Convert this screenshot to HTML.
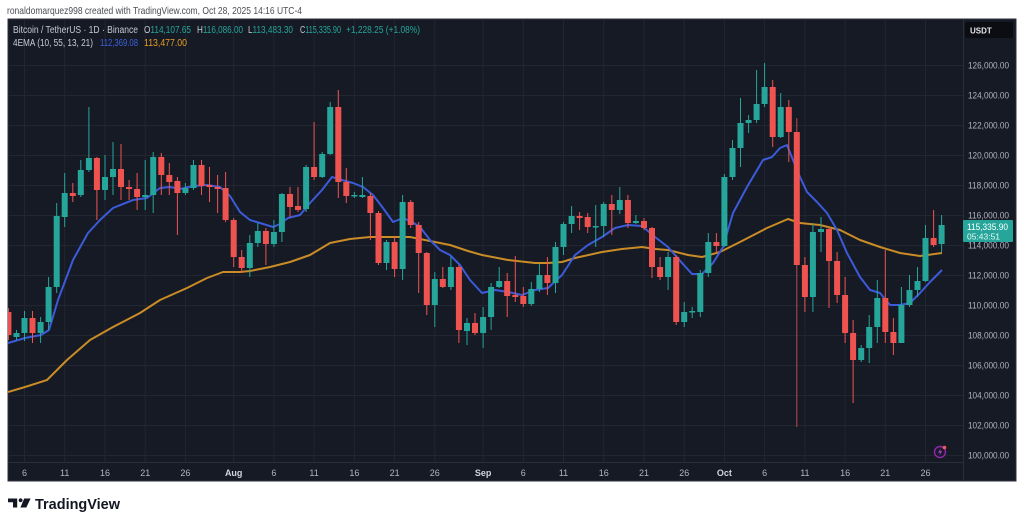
<!DOCTYPE html>
<html><head><meta charset="utf-8"><style>
html,body{margin:0;padding:0;background:#fff;width:1024px;height:524px;overflow:hidden}
svg{display:block}
</style></head><body>
<svg width="1024" height="524" viewBox="0 0 1024 524" font-family="'Liberation Sans', sans-serif">
<defs><clipPath id="pc"><rect x="8" y="19" width="955" height="443"/></clipPath></defs>
<text x="7" y="14" font-size="10.5" fill="#4a4d55" textLength="295" lengthAdjust="spacingAndGlyphs">ronaldomarquez998 created with TradingView.com, Oct 28, 2025 14:16 UTC-4</text>
<rect x="8" y="19" width="1008" height="462" fill="#161a25" stroke="#2f333e" stroke-width="1"/>
<!-- grid -->
<g stroke="#222631" stroke-width="1">
<line x1="8" y1="65.5" x2="963" y2="65.5"/><line x1="8" y1="95.5" x2="963" y2="95.5"/><line x1="8" y1="125.5" x2="963" y2="125.5"/><line x1="8" y1="155.5" x2="963" y2="155.5"/><line x1="8" y1="185.5" x2="963" y2="185.5"/><line x1="8" y1="215.5" x2="963" y2="215.5"/><line x1="8" y1="245.5" x2="963" y2="245.5"/><line x1="8" y1="275.5" x2="963" y2="275.5"/><line x1="8" y1="305.5" x2="963" y2="305.5"/><line x1="8" y1="335.5" x2="963" y2="335.5"/><line x1="8" y1="365.5" x2="963" y2="365.5"/><line x1="8" y1="395.5" x2="963" y2="395.5"/><line x1="8" y1="425.5" x2="963" y2="425.5"/><line x1="8" y1="455.5" x2="963" y2="455.5"/>
<line x1="24.5" y1="19" x2="24.5" y2="462"/><line x1="64.7" y1="19" x2="64.7" y2="462"/><line x1="105" y1="19" x2="105" y2="462"/><line x1="145.2" y1="19" x2="145.2" y2="462"/><line x1="185.4" y1="19" x2="185.4" y2="462"/><line x1="233.7" y1="19" x2="233.7" y2="462"/><line x1="273.9" y1="19" x2="273.9" y2="462"/><line x1="314.1" y1="19" x2="314.1" y2="462"/><line x1="354.4" y1="19" x2="354.4" y2="462"/><line x1="394.6" y1="19" x2="394.6" y2="462"/><line x1="434.8" y1="19" x2="434.8" y2="462"/><line x1="483.1" y1="19" x2="483.1" y2="462"/><line x1="523.3" y1="19" x2="523.3" y2="462"/><line x1="563.5" y1="19" x2="563.5" y2="462"/><line x1="603.7" y1="19" x2="603.7" y2="462"/><line x1="644" y1="19" x2="644" y2="462"/><line x1="684.2" y1="19" x2="684.2" y2="462"/><line x1="724.4" y1="19" x2="724.4" y2="462"/><line x1="764.6" y1="19" x2="764.6" y2="462"/><line x1="804.9" y1="19" x2="804.9" y2="462"/><line x1="845.1" y1="19" x2="845.1" y2="462"/><line x1="885.3" y1="19" x2="885.3" y2="462"/><line x1="925.5" y1="19" x2="925.5" y2="462"/>
</g>
<line x1="963.5" y1="19" x2="963.5" y2="481" stroke="#2a2e39"/>
<line x1="8" y1="462.5" x2="963" y2="462.5" stroke="#2a2e39"/>
<g clip-path="url(#pc)">
<!-- EMA lines -->
<polyline fill="none" stroke="#c98c26" stroke-width="2" stroke-linejoin="round" points="8,392 25,387 47,380 67,360 90,340 113,327 140,313 160,300 187,288 207,278 223,272 240,272 250,271 270,267 290,262 310,255 330,243 350,239 370,237 390,237 410,237 430,241 450,245 468,251 482,255 508,260 535,263 548,263 562,262 575,258 602,252 622,249 642,247 655,249 668,250 688,255 702,257 720,252 740,242 767,228 788,219 800,223 820,225 840,230 860,240 880,247 900,253 920,256 942,253"/>
<polyline fill="none" stroke="#3b5bdb" stroke-width="2" stroke-linejoin="round" points="8,343 25,338 41,335 49,330 58,300 73,260 88,233 100,220 113,208 133,200 147,198 160,188 170,187 180,189 193,186 207,185 220,187 230,196 240,212 250,220 260,223 273,227 280,224 288,218 300,215 310,203 322,190 332,177 342,180 353,183 363,187 373,195 383,208 393,222 403,218 412,222 420,227 430,240 440,250 450,255 460,265 470,280 482,293 495,290 508,292 522,295 535,290 548,288 562,275 575,255 588,245 602,237 615,228 628,225 642,226 655,237 668,247 682,263 692,274 702,274 713,263 723,247 733,213 747,187 763,160 772,157 780,148 787,145 793,160 800,177 807,192 817,202 827,213 837,230 847,253 860,277 870,290 880,293 890,305 900,305 910,303 920,293 930,282 942,270"/>
<!-- teal candles -->
<g fill="#26a69a">
<rect x="16" y="330" width="1" height="10"/><rect x="13.5" y="333" width="6" height="4"/>
<rect x="24" y="311" width="1" height="30"/><rect x="21.5" y="318" width="6" height="15"/>
<rect x="40.1" y="317" width="1" height="26"/><rect x="37.6" y="322" width="6" height="11"/>
<rect x="48.1" y="277" width="1" height="53"/><rect x="45.6" y="287" width="6" height="35"/>
<rect x="56.2" y="203" width="1" height="90"/><rect x="53.7" y="216" width="6" height="71"/>
<rect x="64.2" y="173" width="1" height="54"/><rect x="61.7" y="193" width="6" height="24"/>
<rect x="80.3" y="160" width="1" height="37"/><rect x="77.8" y="170" width="6" height="25"/>
<rect x="88.4" y="107" width="1" height="65"/><rect x="85.9" y="158" width="6" height="12"/>
<rect x="104.5" y="155" width="1" height="45"/><rect x="102" y="177" width="6" height="13"/>
<rect x="112.5" y="142" width="1" height="53"/><rect x="110" y="169" width="6" height="8"/>
<rect x="144.7" y="160" width="1" height="50"/><rect x="142.2" y="195" width="6" height="2"/>
<rect x="152.7" y="152" width="1" height="61"/><rect x="150.2" y="157" width="6" height="38"/>
<rect x="184.9" y="183" width="1" height="12"/><rect x="182.4" y="188" width="6" height="5"/>
<rect x="193" y="160" width="1" height="30"/><rect x="190.5" y="165" width="6" height="23"/>
<rect x="249.3" y="235" width="1" height="42"/><rect x="246.8" y="243" width="6" height="25"/>
<rect x="257.3" y="223" width="1" height="24"/><rect x="254.8" y="231" width="6" height="12"/>
<rect x="273.4" y="220" width="1" height="27"/><rect x="270.9" y="232" width="6" height="12"/>
<rect x="281.4" y="193" width="1" height="49"/><rect x="278.9" y="194" width="6" height="38"/>
<rect x="305.6" y="165" width="1" height="47"/><rect x="303.1" y="167" width="6" height="42"/>
<rect x="321.7" y="152" width="1" height="26"/><rect x="319.2" y="154" width="6" height="23"/>
<rect x="329.7" y="102" width="1" height="53"/><rect x="327.2" y="107" width="6" height="47"/>
<rect x="353.9" y="192" width="1" height="6"/><rect x="351.4" y="195" width="6" height="1.5"/>
<rect x="361.9" y="177" width="1" height="21"/><rect x="359.4" y="195" width="6" height="2"/>
<rect x="386" y="240" width="1" height="30"/><rect x="383.5" y="242" width="6" height="21"/>
<rect x="402.1" y="195" width="1" height="85"/><rect x="399.6" y="202" width="6" height="67"/>
<rect x="434.3" y="272" width="1" height="55"/><rect x="431.8" y="279" width="6" height="26"/>
<rect x="450.4" y="257" width="1" height="33"/><rect x="447.9" y="267" width="6" height="20"/>
<rect x="466.5" y="318" width="1" height="27"/><rect x="464" y="323" width="6" height="8"/>
<rect x="482.6" y="307" width="1" height="41"/><rect x="480.1" y="317" width="6" height="16"/>
<rect x="490.6" y="283" width="1" height="47"/><rect x="488.1" y="287" width="6" height="30"/>
<rect x="498.7" y="267" width="1" height="21"/><rect x="496.2" y="281" width="6" height="6"/>
<rect x="530.8" y="282" width="1" height="24"/><rect x="528.3" y="289" width="6" height="15"/>
<rect x="538.9" y="264" width="1" height="28"/><rect x="536.4" y="275" width="6" height="14"/>
<rect x="555" y="242" width="1" height="51"/><rect x="552.5" y="247" width="6" height="36"/>
<rect x="563" y="222" width="1" height="33"/><rect x="560.5" y="224" width="6" height="23"/>
<rect x="571.1" y="206" width="1" height="27"/><rect x="568.6" y="216" width="6" height="8"/>
<rect x="595.2" y="205" width="1" height="42"/><rect x="592.7" y="226" width="6" height="1.5"/>
<rect x="603.2" y="202" width="1" height="35"/><rect x="600.7" y="204" width="6" height="22"/>
<rect x="619.3" y="187" width="1" height="27"/><rect x="616.8" y="200" width="6" height="10"/>
<rect x="635.4" y="215" width="1" height="9"/><rect x="632.9" y="221" width="6" height="2"/>
<rect x="667.6" y="252" width="1" height="38"/><rect x="665.1" y="257" width="6" height="20"/>
<rect x="683.7" y="302" width="1" height="25"/><rect x="681.2" y="312" width="6" height="10"/>
<rect x="691.7" y="307" width="1" height="11"/><rect x="689.2" y="311" width="6" height="1.5"/>
<rect x="699.8" y="270" width="1" height="47"/><rect x="697.3" y="273" width="6" height="39"/>
<rect x="707.8" y="233" width="1" height="44"/><rect x="705.3" y="242" width="6" height="31"/>
<rect x="723.9" y="174" width="1" height="73"/><rect x="721.4" y="177" width="6" height="69"/>
<rect x="732" y="140" width="1" height="40"/><rect x="729.5" y="148" width="6" height="29"/>
<rect x="740" y="98" width="1" height="69"/><rect x="737.5" y="123" width="6" height="25"/>
<rect x="748.1" y="115" width="1" height="18"/><rect x="745.6" y="120" width="6" height="3"/>
<rect x="756.1" y="70" width="1" height="53"/><rect x="753.6" y="104" width="6" height="16"/>
<rect x="764.1" y="63" width="1" height="44"/><rect x="761.6" y="87" width="6" height="17"/>
<rect x="780.2" y="93" width="1" height="45"/><rect x="777.7" y="107" width="6" height="30"/>
<rect x="812.4" y="223" width="1" height="89"/><rect x="809.9" y="232" width="6" height="65"/>
<rect x="820.5" y="217" width="1" height="35"/><rect x="818" y="229" width="6" height="3"/>
<rect x="860.7" y="345" width="1" height="17"/><rect x="858.2" y="348" width="6" height="12"/>
<rect x="868.7" y="315" width="1" height="48"/><rect x="866.2" y="327" width="6" height="21"/>
<rect x="876.8" y="280" width="1" height="63"/><rect x="874.3" y="298" width="6" height="29"/>
<rect x="900.9" y="287" width="1" height="56"/><rect x="898.4" y="305" width="6" height="38"/>
<rect x="909" y="275" width="1" height="32"/><rect x="906.5" y="290" width="6" height="15"/>
<rect x="917" y="267" width="1" height="30"/><rect x="914.5" y="281" width="6" height="9"/>
<rect x="925" y="225" width="1" height="57"/><rect x="922.5" y="238" width="6" height="43"/>
<rect x="941.1" y="215" width="1" height="37"/><rect x="938.6" y="225" width="6" height="19"/>
</g>
<!-- red candles -->
<g fill="#ef5350">
<rect x="7.9" y="308" width="1" height="32"/><rect x="5.4" y="312" width="6" height="23"/>
<rect x="32" y="311" width="1" height="32"/><rect x="29.5" y="318" width="6" height="15"/>
<rect x="72.3" y="183" width="1" height="19"/><rect x="69.8" y="193" width="6" height="3"/>
<rect x="96.4" y="157" width="1" height="63"/><rect x="93.9" y="158" width="6" height="32"/>
<rect x="120.5" y="144" width="1" height="56"/><rect x="118" y="169" width="6" height="18"/>
<rect x="128.6" y="180" width="1" height="20"/><rect x="126.1" y="187" width="6" height="2"/>
<rect x="136.6" y="173" width="1" height="37"/><rect x="134.1" y="189" width="6" height="8"/>
<rect x="160.8" y="153" width="1" height="42"/><rect x="158.3" y="157" width="6" height="18"/>
<rect x="168.8" y="163" width="1" height="32"/><rect x="166.3" y="175" width="6" height="7"/>
<rect x="176.9" y="177" width="1" height="58"/><rect x="174.4" y="181" width="6" height="12"/>
<rect x="201" y="160" width="1" height="35"/><rect x="198.5" y="165" width="6" height="21"/>
<rect x="209" y="167" width="1" height="35"/><rect x="206.5" y="185" width="6" height="2"/>
<rect x="217.1" y="175" width="1" height="38"/><rect x="214.6" y="187" width="6" height="2"/>
<rect x="225.1" y="172" width="1" height="50"/><rect x="222.6" y="188" width="6" height="32"/>
<rect x="233.2" y="218" width="1" height="49"/><rect x="230.7" y="220" width="6" height="37"/>
<rect x="241.2" y="250" width="1" height="23"/><rect x="238.7" y="257" width="6" height="11"/>
<rect x="265.4" y="228" width="1" height="37"/><rect x="262.9" y="231" width="6" height="13"/>
<rect x="289.5" y="187" width="1" height="30"/><rect x="287" y="194" width="6" height="13"/>
<rect x="297.5" y="187" width="1" height="25"/><rect x="295" y="206" width="6" height="4"/>
<rect x="313.6" y="122" width="1" height="58"/><rect x="311.1" y="167" width="6" height="10"/>
<rect x="337.8" y="90" width="1" height="108"/><rect x="335.3" y="107" width="6" height="75"/>
<rect x="345.8" y="168" width="1" height="35"/><rect x="343.3" y="182" width="6" height="14"/>
<rect x="369.9" y="193" width="1" height="47"/><rect x="367.4" y="196" width="6" height="17"/>
<rect x="378" y="211" width="1" height="54"/><rect x="375.5" y="213" width="6" height="50"/>
<rect x="394.1" y="237" width="1" height="40"/><rect x="391.6" y="242" width="6" height="27"/>
<rect x="410.2" y="200" width="1" height="28"/><rect x="407.7" y="202" width="6" height="23"/>
<rect x="418.2" y="222" width="1" height="71"/><rect x="415.7" y="225" width="6" height="28"/>
<rect x="426.3" y="252" width="1" height="63"/><rect x="423.8" y="253" width="6" height="52"/>
<rect x="442.3" y="267" width="1" height="21"/><rect x="439.8" y="279" width="6" height="8"/>
<rect x="458.4" y="265" width="1" height="78"/><rect x="455.9" y="267" width="6" height="63"/>
<rect x="474.5" y="313" width="1" height="22"/><rect x="472" y="323" width="6" height="10"/>
<rect x="506.7" y="273" width="1" height="44"/><rect x="504.2" y="281" width="6" height="15"/>
<rect x="514.8" y="256" width="1" height="46"/><rect x="512.3" y="295" width="6" height="2"/>
<rect x="522.8" y="287" width="1" height="20"/><rect x="520.3" y="296" width="6" height="8"/>
<rect x="546.9" y="257" width="1" height="38"/><rect x="544.4" y="275" width="6" height="8"/>
<rect x="579.1" y="212" width="1" height="18"/><rect x="576.6" y="216" width="6" height="2"/>
<rect x="587.2" y="213" width="1" height="20"/><rect x="584.7" y="217" width="6" height="10"/>
<rect x="611.3" y="195" width="1" height="40"/><rect x="608.8" y="204" width="6" height="6"/>
<rect x="627.4" y="195" width="1" height="33"/><rect x="624.9" y="200" width="6" height="23"/>
<rect x="643.5" y="218" width="1" height="12"/><rect x="641" y="221" width="6" height="7"/>
<rect x="651.5" y="227" width="1" height="51"/><rect x="649" y="228" width="6" height="39"/>
<rect x="659.6" y="257" width="1" height="23"/><rect x="657.1" y="267" width="6" height="10"/>
<rect x="675.7" y="255" width="1" height="70"/><rect x="673.2" y="257" width="6" height="65"/>
<rect x="715.9" y="233" width="1" height="20"/><rect x="713.4" y="242" width="6" height="4"/>
<rect x="772.2" y="80" width="1" height="67"/><rect x="769.7" y="87" width="6" height="50"/>
<rect x="788.3" y="100" width="1" height="62"/><rect x="785.8" y="107" width="6" height="25"/>
<rect x="796.3" y="118" width="1" height="309" opacity="0.8"/><rect x="793.8" y="132" width="6" height="133"/>
<rect x="804.4" y="257" width="1" height="55"/><rect x="801.9" y="265" width="6" height="32"/>
<rect x="828.5" y="227" width="1" height="81"/><rect x="826" y="229" width="6" height="32"/>
<rect x="836.6" y="252" width="1" height="51"/><rect x="834.1" y="261" width="6" height="34"/>
<rect x="844.6" y="277" width="1" height="66"/><rect x="842.1" y="295" width="6" height="38"/>
<rect x="852.6" y="320" width="1" height="83"/><rect x="850.1" y="333" width="6" height="27"/>
<rect x="884.8" y="250" width="1" height="93"/><rect x="882.3" y="298" width="6" height="34"/>
<rect x="892.9" y="318" width="1" height="37"/><rect x="890.4" y="332" width="6" height="11"/>
<rect x="933.1" y="210" width="1" height="37"/><rect x="930.6" y="238" width="6" height="7"/>
</g>
</g>
<!-- legend -->
<g font-size="10">
<text x="13" y="33" fill="#c8cbd3" textLength="125" lengthAdjust="spacingAndGlyphs">Bitcoin / TetherUS · 1D · Binance</text>
<text x="144" y="33" fill="#26a69a" textLength="47" lengthAdjust="spacingAndGlyphs"><tspan fill="#c8cbd3">O</tspan>114,107.65</text>
<text x="197" y="33" fill="#26a69a" textLength="46" lengthAdjust="spacingAndGlyphs"><tspan fill="#c8cbd3">H</tspan>116,086.00</text>
<text x="248" y="33" fill="#26a69a" textLength="45" lengthAdjust="spacingAndGlyphs"><tspan fill="#c8cbd3">L</tspan>113,483.30</text>
<text x="300" y="33" fill="#26a69a" textLength="41" lengthAdjust="spacingAndGlyphs"><tspan fill="#c8cbd3">C</tspan>115,335.90</text>
<text x="346" y="33" fill="#26a69a" textLength="74" lengthAdjust="spacingAndGlyphs">+1,228.25 (+1.08%)</text>
<text x="13" y="46" fill="#c8cbd3" textLength="80" lengthAdjust="spacingAndGlyphs">4EMA (10, 55, 13, 21)</text>
<text x="100" y="46" fill="#3b62e0" textLength="38" lengthAdjust="spacingAndGlyphs">112,369.08</text>
<text x="144" y="46" fill="#e89c22" textLength="43" lengthAdjust="spacingAndGlyphs">113,477.00</text>
</g>
<!-- price axis -->
<g font-size="9" fill="#b2b5be">
<text x="968" y="68.5" textLength="41" lengthAdjust="spacingAndGlyphs">126,000.00</text>
<text x="968" y="98.5" textLength="41" lengthAdjust="spacingAndGlyphs">124,000.00</text>
<text x="968" y="128.5" textLength="41" lengthAdjust="spacingAndGlyphs">122,000.00</text>
<text x="968" y="158.5" textLength="41" lengthAdjust="spacingAndGlyphs">120,000.00</text>
<text x="968" y="188.5" textLength="41" lengthAdjust="spacingAndGlyphs">118,000.00</text>
<text x="968" y="218.5" textLength="41" lengthAdjust="spacingAndGlyphs">116,000.00</text>
<text x="968" y="248.5" textLength="41" lengthAdjust="spacingAndGlyphs">114,000.00</text>
<text x="968" y="278.5" textLength="41" lengthAdjust="spacingAndGlyphs">112,000.00</text>
<text x="968" y="308.5" textLength="41" lengthAdjust="spacingAndGlyphs">110,000.00</text>
<text x="968" y="338.5" textLength="41" lengthAdjust="spacingAndGlyphs">108,000.00</text>
<text x="968" y="368.5" textLength="41" lengthAdjust="spacingAndGlyphs">106,000.00</text>
<text x="968" y="398.5" textLength="41" lengthAdjust="spacingAndGlyphs">104,000.00</text>
<text x="968" y="428.5" textLength="41" lengthAdjust="spacingAndGlyphs">102,000.00</text>
<text x="968" y="458.5" textLength="41" lengthAdjust="spacingAndGlyphs">100,000.00</text>
</g>
<rect x="965" y="22" width="48" height="16" rx="2" fill="#0b0d13"/>
<text x="970" y="33.5" font-size="8" font-weight="bold" fill="#e6e7ea">USDT</text>
<rect x="963" y="220" width="50" height="22" rx="1" fill="#26a69a"/>
<text x="967" y="230" font-size="9" fill="#ffffff" textLength="41" lengthAdjust="spacingAndGlyphs">115,335.90</text>
<text x="967" y="239.5" font-size="8.5" fill="#e8f6f4" textLength="33" lengthAdjust="spacingAndGlyphs">05:43:51</text>
<!-- time axis -->
<g font-size="9" fill="#b2b5be" text-anchor="middle">
<text x="24.5" y="476">6</text><text x="64.7" y="476">11</text><text x="105" y="476">16</text><text x="145.2" y="476">21</text><text x="185.4" y="476">26</text>
<text x="233.7" y="476" font-weight="bold" fill="#d1d4dc">Aug</text>
<text x="273.9" y="476">6</text><text x="314.1" y="476">11</text><text x="354.4" y="476">16</text><text x="394.6" y="476">21</text><text x="434.8" y="476">26</text>
<text x="483.1" y="476" font-weight="bold" fill="#d1d4dc">Sep</text>
<text x="523.3" y="476">6</text><text x="563.5" y="476">11</text><text x="603.7" y="476">16</text><text x="644" y="476">21</text><text x="684.2" y="476">26</text>
<text x="724.4" y="476" font-weight="bold" fill="#d1d4dc">Oct</text>
<text x="764.6" y="476">6</text><text x="804.9" y="476">11</text><text x="845.1" y="476">16</text><text x="885.3" y="476">21</text><text x="925.5" y="476">26</text>
</g>
<!-- lightning icon -->
<circle cx="940" cy="452" r="5.5" fill="#1f1630" stroke="#8e2aa8" stroke-width="1.4"/>
<path d="M941,448.5 L938,452.5 L940.2,452.5 L939,455.5 L942.2,451.3 L940,451.3 Z" fill="#b04cc8"/>
<circle cx="944.5" cy="447.5" r="1.8" fill="#f05a5a"/>
<!-- TradingView logo -->
<path d="M8,498.5 H17.2 V507.5 H13 V502.3 H8 Z" fill="#131722"/>
<circle cx="20.6" cy="500.3" r="1.9" fill="#131722"/>
<polygon points="24.2,498.5 30.6,498.5 26.3,507.5 20.4,507.5" fill="#131722"/>
<text x="35" y="509" font-size="15" font-weight="bold" fill="#131722" textLength="85" lengthAdjust="spacingAndGlyphs">TradingView</text>
</svg>
</body></html>
